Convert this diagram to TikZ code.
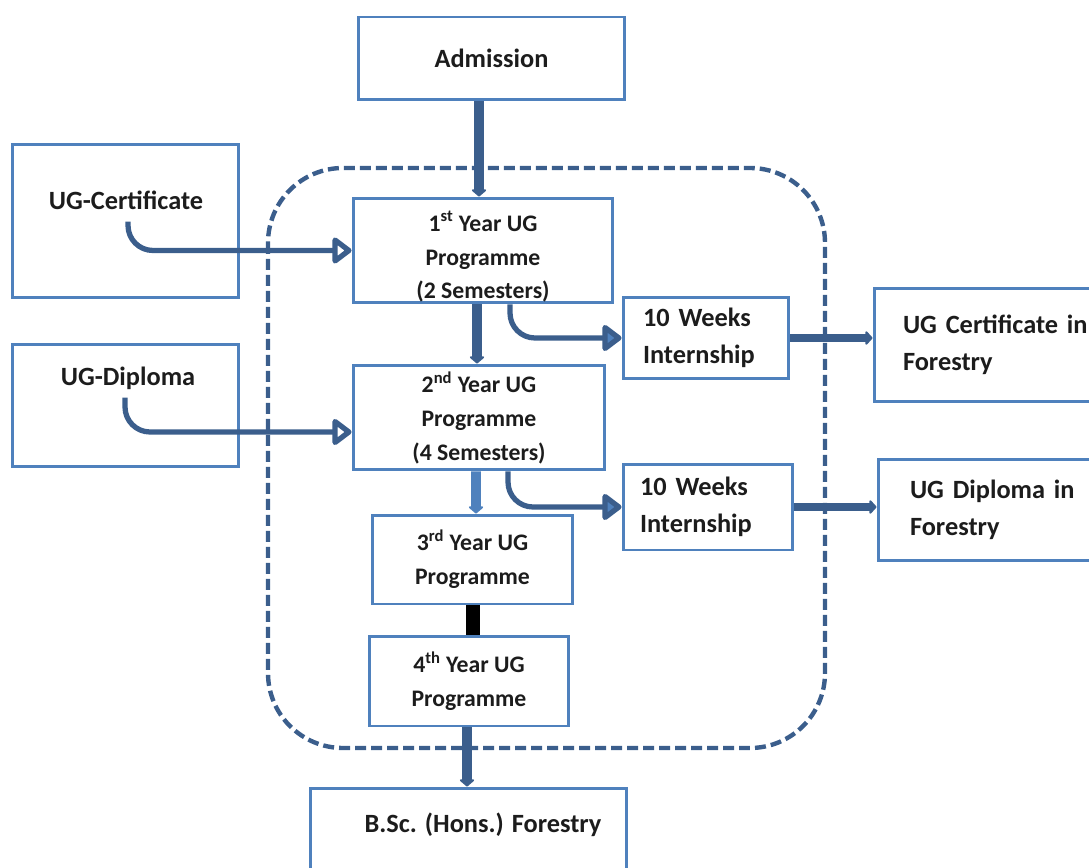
\documentclass[tikz,border=0pt]{standalone}
\usepackage{fontspec}
\setmainfont{Carlito}
\usetikzlibrary{arrows.meta, calc}
\definecolor{boxblue}{HTML}{4F81BD}
\definecolor{linkblue}{HTML}{3B5E8C}
\definecolor{inkgray}{HTML}{1C1C1C}

\begin{document}
\begin{tikzpicture}[x=0.02cm, y=-0.02cm,
  box/.style={draw=boxblue, line width=1.7pt, inner sep=0pt, text=inkgray, font=\bfseries\fontsize{15}{21.3}\selectfont},
  yearbox/.style={box, align=center, font=\bfseries\fontsize{13.5}{19.3}\selectfont},
  notebox/.style={box, align=left, inner xsep=#1},
  txt/.style={inner sep=0pt, text=inkgray, font=\bfseries\fontsize{15}{21}\selectfont},
  trunk/.style={draw=linkblue, line width=5.5pt, -{Triangle[length=0.15cm, width=0.34cm, round]}},
  entry/.style={draw=linkblue, line width=3pt, -{Triangle[open, length=0.42cm, width=0.6cm, round]}},
  leave/.style={entry, -{Triangle[length=0.42cm, width=0.6cm, fill=boxblue, round]}},
  award/.style={draw=linkblue, line width=5pt, -{Triangle[length=0.15cm, width=0.32cm, round]}}]
	\path[use as bounding box, clip] (0,0) rectangle (1089,868);
	\draw[linkblue, line width=2.5pt, dash pattern=on 0.22cm off 0.1cm, rounded corners=1.5cm] (268,168) rectangle (825,748);
	\node[box, minimum width=5.34cm, minimum height=1.66cm] (adm) at (491.5,58.5) {Admission};
	\node[box, minimum width=4.54cm, minimum height=3.08cm] (ugcert) at (125.5,221) {};
	\node[txt] (ugcerttxt) at (126,200) {UG-Certificate};
	\node[box, minimum width=4.54cm, minimum height=2.46cm] (ugdip) at (125.5,405.5) {};
	\node[txt] (ugdiptxt) at (128,378) {UG-Diploma};
	\node[box, minimum width=5.2cm, minimum height=2.1cm] (yr1) at (483,250.5) {};
	\node[yearbox, draw=none] (yr1txt) at (483,257) {1\textsuperscript{st} Year UG\\Programme\\(2 Semesters)};
	\node[yearbox, minimum width=5.04cm, minimum height=2.1cm] (yr2) at (479,417.5) {2\textsuperscript{nd} Year UG\\Programme\\(4 Semesters)};
	\node[yearbox, minimum width=4.02cm, minimum height=1.78cm] (yr3) at (472.5,559.5) {3\textsuperscript{rd} Year UG\\Programme};
	\node[yearbox, minimum width=4cm, minimum height=1.8cm] (yr4) at (469,681) {4\textsuperscript{th} Year UG\\Programme};
	\node[box, minimum width=6.34cm, minimum height=2.24cm] (bsc) at (468.5,844) {};
	\node[txt] (bsctxt) at (483,825) {B.Sc. (Hons.) Forestry};
	\node[notebox=0.4cm, text width=2.52cm, minimum height=1.64cm] (int1) at (706,338) {10 Weeks\\Internship};
	\node[notebox=0.34cm, text width=2.72cm, minimum height=1.72cm] (int2) at (708,507) {10 Weeks\\Internship};
	\node[notebox=0.58cm, text width=4.04cm, minimum height=2.28cm] (ugcf) at (1004,345) {UG Certificate in\\Forestry};
	\node[notebox=0.64cm, text width=3.72cm, minimum height=2.04cm] (ugdf) at (1003,510) {UG Diploma in\\Forestry};
	\draw[trunk] ($(adm.south)+(-12.5,0)$) -- ($(yr1.north)+(-4,0)$);
	\draw[trunk] ($(yr1.south)+(-6,0)$) -- ($(yr2.north)+(-2,0)$);
	\draw[trunk, draw=boxblue] ($(yr2.south)+(-3,0)$) -- ($(yr3.north)+(3.5,0)$);
	\draw[black, line width=0.28cm] (yr3.south) -- (yr4.north -| yr3.south);
	\draw[trunk] ($(yr4.south)+(-2,0)$) -- ($(bsc.north)+(-1.5,0)$);
	\draw[entry] ($(ugcerttxt.south)+(2,12)$) [rounded corners=0.5cm] |- ($(yr1.west)+(-40,0)$) [sharp corners] -- (yr1.west);
	\draw[entry] ($(ugdiptxt.south)+(-3,8)$) [rounded corners=0.5cm] |- ($(yr2.west)+(-40,14.5)$) [sharp corners] -- ($(yr2.west)+(0,14.5)$);
	\draw[leave] ($(yr1.south)+(27,0)$) [rounded corners=0.5cm] |- ($(int1.west)+(-40,0)$) [sharp corners] -- (int1.west);
	\draw[leave] ($(yr2.south)+(29,0)$) [rounded corners=0.5cm] |- ($(int2.west)+(-40,0)$) [sharp corners] -- (int2.west);
	\draw[award] (int1.east) -- (int1.east -| ugcf.west);
	\draw[award] (int2.east) -- (int2.east -| ugdf.west);
\end{tikzpicture}
\end{document}
